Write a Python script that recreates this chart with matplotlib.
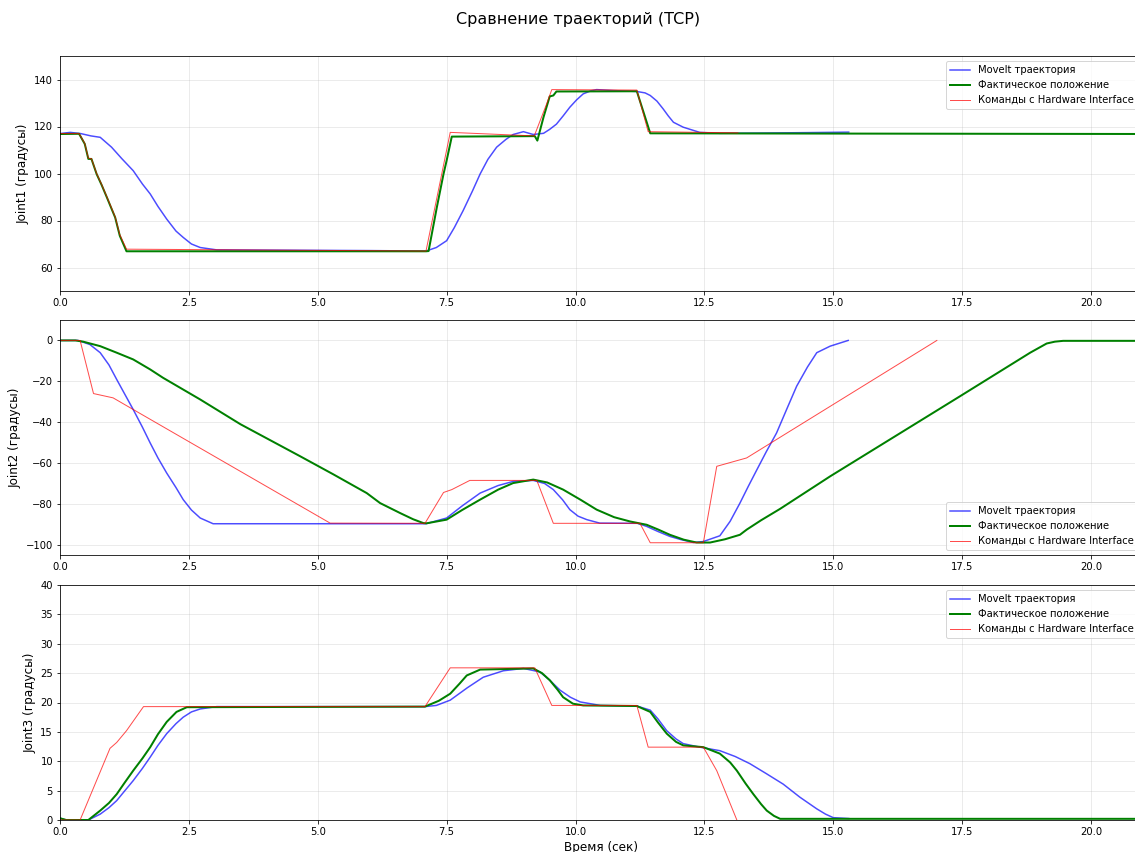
import matplotlib
matplotlib.use('Agg')
import matplotlib.pyplot as plt

# время и значения
# Joint1
j1_plan_t = [0, 0.2, 0.4, 0.6, 0.78, 1.0, 1.2, 1.42, 1.6, 1.75, 1.9, 2.07, 2.25, 2.39, 2.55, 2.72, 3.04, 4.0, 5.0,
             6.0, 7.1, 7.3, 7.5, 7.65, 7.82, 8.0, 8.15, 8.3, 8.47, 8.65, 8.79, 8.99, 9.18, 9.38, 9.5, 9.63, 9.76,
             9.89, 10.02, 10.15, 10.3, 10.41, 10.73, 11.19, 11.35, 11.45, 11.58, 11.7, 11.8, 11.9, 12.09, 12.41,
             12.8, 13.5, 14.5, 15.3]
j1_plan = [117, 117.5, 117, 116, 115.4, 111.2, 106.3, 101.2, 95.5, 91.3, 86, 80.6, 75.5, 72.8, 70, 68.5, 67.5, 67.4,
           67.3, 67.2, 67.0, 68.5, 71.4, 77, 84.2, 92.5, 99.8, 106, 111.2, 114.5, 116.6, 117.8, 116.6, 117.1, 118.8,
           121, 124.5, 128.2, 131.3, 133.9, 135.2, 135.7, 135.3, 134.9, 134.3, 133.2, 130.8, 127.5, 124.5, 121.8,
           119.7, 117.5, 117.1, 117.2, 117.4, 117.6]
j1_real_t = [0, 0.37, 0.48, 0.55, 0.61, 0.71, 0.81, 0.91, 1.0, 1.07, 1.16, 1.29, 7.1, 7.15, 7.31, 7.44, 7.5, 7.6,
             9.21, 9.26, 9.38, 9.5, 9.57, 9.63, 11.19, 11.45, 21.5]
j1_real = [116.8, 116.9, 112.6, 106.2, 106.2, 99.8, 95, 89.8, 85, 81.3, 73.5, 66.9, 66.9, 67, 85.6, 99.8, 105.5,
           115.7, 115.9, 114, 124, 132.8, 133.2, 134.9, 135, 117.1, 116.8]
j1_cmd_t = [0, 0.37, 0.48, 0.55, 0.61, 0.71, 0.81, 0.91, 1.0, 1.07, 1.16, 1.29, 7.1, 7.57, 9.2, 9.44, 9.54, 11.19,
            11.41, 13.15]
j1_cmd = [117, 117, 112.8, 106.5, 106.3, 100, 95.2, 90, 85.3, 81.5, 74, 67.8, 67.0, 117.5, 116, 129.6, 135.7, 135.5,
          117.8, 117.3]

# Joint2
j2_plan_t = [0, 0.35, 0.58, 0.78, 0.95, 1.1, 1.25, 1.42, 1.6, 1.75, 1.9, 2.07, 2.25, 2.39, 2.55, 2.72, 2.97, 7.1,
             7.5, 7.8, 8.15, 8.5, 8.79, 9.18, 9.4, 9.57, 9.75, 9.89, 10.05, 10.22, 10.47, 11.2, 11.38, 11.6, 11.83,
             12.05, 12.29, 12.48, 12.8, 13.0, 13.19, 13.35, 13.52, 13.7, 13.9, 14.1, 14.29, 14.5, 14.68, 14.94, 15.29]
j2_plan = [0, 0, -2, -6, -12, -19.1, -26, -33.8, -42.5, -50.2, -57.5, -64.9, -72, -77.9, -83, -86.9, -89.7, -89.7,
           -86.9, -81, -74.7, -71, -69, -68.5, -70, -73, -78, -82.8, -86, -87.7, -89.4, -89.5, -91, -93.5, -95.9,
           -97.5, -98.9, -98.4, -95.6, -88.5, -79.6, -71.5, -63.2, -54.5, -45.3, -33.5, -22.4, -13, -6, -2.8, 0]
j2_real_t = [0, 0.3, 0.45, 0.78, 1.1, 1.42, 1.75, 2.0, 2.72, 3.5, 4.66, 5.3, 5.95, 6.21, 6.6, 6.85, 7.05, 7.11, 7.5,
             7.8, 8.15, 8.5, 8.79, 9.18, 9.45, 9.76, 10.1, 10.41, 10.75, 11.06, 11.38, 11.6, 11.83, 12.1, 12.35,
             12.61, 12.9, 13.19, 13.32, 13.6, 13.97, 14.94, 17.46, 18.82, 19.14, 19.3, 19.46, 21.5]
j2_real = [0, 0, -0.6, -2.8, -6, -9.3, -14.2, -18.3, -28.9, -41, -56.7, -65.5, -74.7, -79.6, -84.5, -87.5, -89.4,
           -89.5, -87.7, -83, -77.9, -73, -69.8, -68.1, -69.5, -73, -78, -82.8, -86.5, -88.6, -90.2, -92.5, -95.1,
           -97.5, -98.9, -98.9, -97.3, -95.1, -92.6, -88, -82.4, -66.5, -27.3, -6, -1.5, -0.6, -0.2, -0.2]
j2_cmd_t = [0, 0.39, 0.65, 1.03, 1.42, 5.24, 7.08, 7.44, 7.6, 7.95, 9.25, 9.57, 11.25, 11.45, 12.48, 12.74, 13.32,
            17.01]
j2_cmd = [0, 0, -26, -28.1, -33.8, -89.4, -89.5, -74.4, -73, -68.5, -68.5, -89.5, -89.5, -99, -99, -61.6, -57.5, 0]

# Joint3
j3_plan_t = [0, 0.12, 0.55, 0.78, 0.95, 1.1, 1.25, 1.42, 1.6, 1.75, 1.9, 2.07, 2.25, 2.39, 2.55, 2.72, 3.04, 7.08,
             7.3, 7.57, 7.9, 8.21, 8.6, 8.99, 9.31, 9.5, 9.7, 9.9, 10.09, 10.48, 11.19, 11.45, 11.6, 11.77, 11.95,
             12.09, 12.41, 12.8, 13.1, 13.38, 13.7, 14.03, 14.35, 14.68, 14.85, 15.0, 15.3]
j3_plan = [0.3, 0, 0, 1.0, 2.1, 3.3, 4.9, 6.7, 8.8, 10.7, 12.7, 14.7, 16.4, 17.5, 18.4, 18.9, 19.3, 19.3, 19.5,
           20.4, 22.5, 24.3, 25.4, 25.8, 25.2, 23.8, 22.1, 20.9, 20.1, 19.5, 19.4, 18.7, 17.2, 15.2, 13.8, 13, 12.4,
           11.8, 10.8, 9.6, 7.9, 6.1, 3.9, 1.9, 1.0, 0.4, 0.25]
j3_real_t = [0, 0.12, 0.55, 0.78, 0.95, 1.1, 1.25, 1.42, 1.6, 1.75, 1.9, 2.07, 2.26, 2.46, 7.08, 7.35, 7.57, 7.75,
             7.89, 8.15, 9.18, 9.35, 9.5, 9.65, 9.76, 9.95, 10.15, 11.19, 11.45, 11.6, 11.77, 11.95, 12.09, 12.48,
             12.8, 13.0, 13.13, 13.3, 13.45, 13.6, 13.71, 13.85, 13.97, 21.5]
j3_real = [0.3, 0, 0, 1.6, 2.9, 4.4, 6.3, 8.4, 10.5, 12.4, 14.6, 16.7, 18.4, 19.2, 19.3, 20.3, 21.5, 23.2, 24.6,
           25.6, 25.8, 25.0, 23.8, 22.2, 20.9, 19.8, 19.5, 19.4, 18.4, 16.6, 14.7, 13.3, 12.7, 12.4, 11.3, 9.8, 8.4,
           6.2, 4.4, 2.7, 1.6, 0.7, 0.2, 0.2]
j3_cmd_t = [0, 0.39, 0.97, 1.1, 1.29, 1.62, 7.08, 7.57, 9.21, 9.54, 11.19, 11.41, 12.48, 12.74, 13.13]
j3_cmd = [0, 0, 12.2, 13.2, 15.2, 19.3, 19.3, 25.9, 25.9, 19.5, 19.5, 12.4, 12.4, 8.4, 0]

joint_names = ['Joint1', 'Joint2', 'Joint3']
y_limits = [(50, 150), (-105, 10), (0, 40)]
legend_locs = ['upper right', 'lower right', 'upper right']
x_max = 21.0


def draw_joint(ax, plan_t, plan, real_t, real, cmd_t, cmd, name, ylim, loc):
    ax.plot(plan_t, plan, 'b-', linewidth=1.5, alpha=0.7, label='MoveIt траектория')
    ax.plot(real_t, real, 'g-', linewidth=2, label='Фактическое положение')
    ax.plot(cmd_t, cmd, 'r-', linewidth=1, alpha=0.7, label='Команды с Hardware Interface')
    ax.set_ylabel(f'{name} (градусы)', fontsize=12)
    ax.set_xlim(0, x_max)
    ax.set_ylim(*ylim)
    ax.grid(True, alpha=0.3)
    ax.legend(loc=loc)


fig = plt.figure(figsize=(1135 / 72, 852 / 72), dpi=72)
# исходная картинка обрезана справа, поэтому заголовок чуть правее центра
fig.suptitle('Сравнение траекторий (TCP)', fontsize=16, x=0.509, y=0.986)

# оси немного выходят за правый край, как на исходной картинке
left = 60 / 1135
width = 51.55 * x_max / 1135
bottoms = [(852 - 291) / 852, (852 - 555) / 852, (852 - 820) / 852]
height = 235 / 852

data = [
    (j1_plan_t, j1_plan, j1_real_t, j1_real, j1_cmd_t, j1_cmd),
    (j2_plan_t, j2_plan, j2_real_t, j2_real, j2_cmd_t, j2_cmd),
    (j3_plan_t, j3_plan, j3_real_t, j3_real, j3_cmd_t, j3_cmd),
]
for i in range(3):
    ax = fig.add_axes([left, bottoms[i], width, height])
    draw_joint(ax, *data[i], joint_names[i], y_limits[i], legend_locs[i])
    if i == 2:
        ax.set_xlabel('Время (сек)', fontsize=12)

plt.savefig('out.png', dpi=72)
